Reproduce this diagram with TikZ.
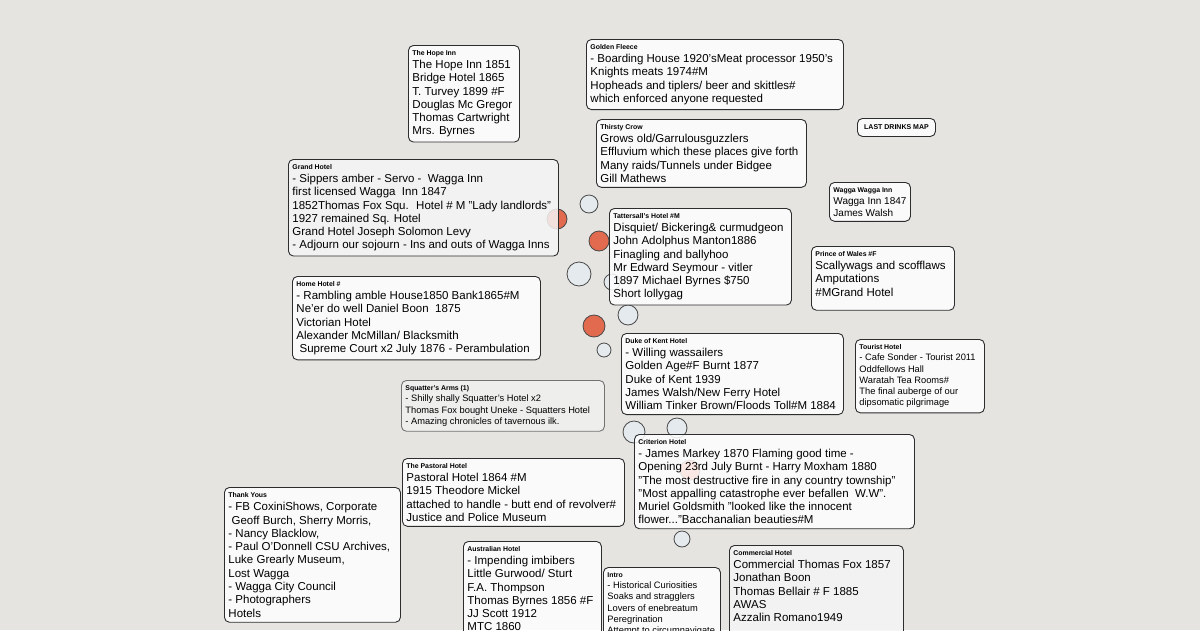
\documentclass[tikz,border=0pt]{standalone}
\usepackage{fontspec}
\setmainfont{Liberation Sans}
\usepackage{xcolor}
\usepackage{tikz}
\usetikzlibrary{positioning}
\definecolor{MapGround}{RGB}{229,228,225}
\definecolor{PubEdge}{RGB}{45,45,45}
\definecolor{PinLight}{RGB}{228,234,237}
\definecolor{PinRed}{RGB}{226,106,78}
\definecolor{PinEdge}{RGB}{72,72,72}
\tikzset{
    pub/.style={rectangle, draw=PubEdge, line width=0.9pt, fill=white, fill opacity=0.85, text opacity=1,
        rounded corners=5pt, inner xsep=4pt, inner ysep=5pt, anchor=north west, align=left,
        font=\fontsize{11.5}{13.2}\selectfont},
    smallpub/.style={pub, font=\fontsize{9.3}{11.3}\selectfont},
    pin/.style={circle, draw=PinEdge, line width=0.8pt, inner sep=0pt},
}
% title line of a box, padded to the inner width of the box
\newcommand{\pubname}[2]{\makebox[#1][l]{\fontsize{6.9}{8}\selectfont\bfseries #2}}

\begin{document}
\begin{tikzpicture}[x=1pt, y=-1pt]
            \useasboundingbox (0,0) rectangle (1200,630);
            \clip (0,0) rectangle (1200,630);
            \fill[MapGround] (0,0) rectangle (1200,630);

            % map pins
            \foreach \px/\py/\pr/\pc [count=\i] in {589/204/9/PinLight, 557/219/10/PinRed, 599/241/10/PinRed,
                579/274/12/PinLight, 612/282/8/PinLight, 628/315/10/PinLight, 594/326/11/PinRed,
                604/350/7/PinLight, 634/432/11/PinLight, 677/428/10/PinLight, 690/470/10/PinRed, 682/539/8/PinLight}
                \node[pin, fill=\pc, minimum size=2*\pr pt] (p\i) at (\px,\py) {};

            % hotels
            \node[pub] (hope) at (408,45) {
                \pubname{103pt}{The Hope Inn}\\
                The Hope Inn 1851\\
                Bridge Hotel 1865\\
                T. Turvey 1899 \#F\\
                Douglas Mc Gregor\\
                Thomas Cartwright\\
                Mrs. Byrnes};
            \node[pub] (fleece) at (586,39) {
                \pubname{249pt}{Golden Fleece}\\
                - Boarding House 1920'sMeat processor 1950's\\
                Knights meats 1974\#M\\
                Hopheads and tiplers/ beer and skittles\#\\
                which enforced anyone requested};
            \node[pub] (crow) at (596,119) {
                \pubname{202pt}{Thirsty Crow}\\
                Grows old/Garrulousguzzlers\\
                Effluvium which these places give forth\\
                Many raids/Tunnels under Bidgee\\
                Gill Mathews};
            \node[pub, font=\fontsize{7}{8}\selectfont\bfseries, minimum width=78pt, minimum height=18pt] (mapname) at (857,118) {LAST DRINKS MAP};
            \node[pub, font=\fontsize{10}{12}\selectfont] (waggainn) at (829,182) {
                \pubname{72pt}{Wagga Wagga Inn}\\
                Wagga Inn 1847\\
                James Walsh};
            \node[pub, fill=black!4] (grand) at (288,159) {
                \pubname{262pt}{Grand Hotel}\\
                - Sippers amber - Servo - \ Wagga Inn\\
                first licensed Wagga \ Inn 1847\\
                1852Thomas Fox Squ. \ Hotel \# M "Lady landlords"\\
                1927 remained Sq. Hotel\\
                Grand Hotel Joseph Solomon Levy\\
                - Adjourn our sojourn - Ins and outs of Wagga Inns};
            \node[pub] (tatts) at (609,208) {
                \pubname{174pt}{Tattersall's Hotel \#M}\\
                Disquiet/ Bickering\& curmudgeon\\
                John Adolphus Manton1886\\
                Finagling and ballyhoo\\
                Mr Edward Seymour - vitler\\
                1897 Michael Byrnes \$750\\
                Short lollygag};
            \node[pub] (prince) at (811,246) {
                \pubname{135pt}{Prince of Wales \#F}\\
                Scallywags and scofflaws\\
                Amputations\\
                \#MGrand Hotel\\[-4pt]
                \mbox{}};
            \node[pub] (home) at (292,276) {
                \pubname{240pt}{Home Hotel \#}\\
                - Rambling amble House1850 Bank1865\#M\\
                Ne'er do well Daniel Boon \ 1875\\
                Victorian Hotel\\
                Alexander McMillan/ Blacksmith\\
                \ Supreme Court x2 July 1876 - Perambulation};
            \node[pub] (kent) at (621,333) {
                \pubname{214pt}{Duke of Kent Hotel}\\
                - Willing wassailers\\
                Golden Age\#F Burnt 1877\\
                Duke of Kent 1939\\
                James Walsh/New Ferry Hotel\\
                William Tinker Brown/Floods Toll\#M 1884};
            \node[smallpub] (tourist) at (855,339) {
                \pubname{121pt}{Tourist Hotel}\\
                - Cafe Sonder - Tourist 2011\\
                Oddfellows Hall\\
                Waratah Tea Rooms\#\\
                The final auberge of our\\
                dipsomatic pilgrimage};
            \node[smallpub, fill=black!6, draw=black!55] (squatter) at (401,380) {
                \pubname{195pt}{Squatter's Arms (1)}\\
                - Shilly shally Squatter's Hotel x2\\
                Thomas Fox bought Uneke - Squatters Hotel\\
                - Amazing chronicles of tavernous ilk.};
            \node[pub] (criterion) at (634,434) {
                \pubname{272pt}{Criterion Hotel}\\
                - James Markey 1870 Flaming good time -\\
                Opening 23rd July Burnt - Harry Moxham 1880\\
                "The most destructive fire in any country township"\\
                "Most appalling catastrophe ever befallen \ W.W".\\
                Muriel Goldsmith "looked like the innocent\\
                flower..."Bacchanalian beauties\#M};
            \node[pub] (pastoral) at (402,458) {
                \pubname{214pt}{The Pastoral Hotel}\\
                Pastoral Hotel 1864 \#M\\
                1915 Theodore Mickel\\
                attached to handle - butt end of revolver\#\\
                Justice and Police Museum};
            \node[pub, font=\fontsize{11.5}{13.3}\selectfont] (thanks) at (224,487) {
                \pubname{168pt}{Thank Yous}\\
                - FB CoxiniShows, Corporate\\
                \ Geoff Burch, Sherry Morris,\\
                - Nancy Blacklow,\\
                - Paul O'Donnell CSU Archives,\\
                Luke Grearly Museum,\\
                Lost Wagga\\
                - Wagga City Council\\
                - Photographers\\
                Hotels};
            \node[pub] (australian) at (463,541) {
                \pubname{130pt}{Australian Hotel}\\
                - Impending imbibers\\
                Little Gurwood/ Sturt\\
                F.A. Thompson\\
                Thomas Byrnes 1856 \#F\\
                JJ Scott 1912\\
                MTC 1860\\
                \mbox{}};
            \node[smallpub] (intro) at (603,567) {
                \pubname{109pt}{Intro}\\
                - Historical Curiosities\\
                Soaks and stragglers\\
                Lovers of enebreatum\\
                Peregrination\\
                Attempt to circumnavigate\\
                \mbox{}};
            \node[pub, fill=black!4] (commercial) at (729,545) {
                \pubname{166pt}{Commercial Hotel}\\
                Commercial Thomas Fox 1857\\
                Jonathan Boon\\
                Thomas Bellair \# F 1885\\
                AWAS\\
                Azzalin Romano1949\\
                \mbox{}};
        \end{tikzpicture}
\end{document}
